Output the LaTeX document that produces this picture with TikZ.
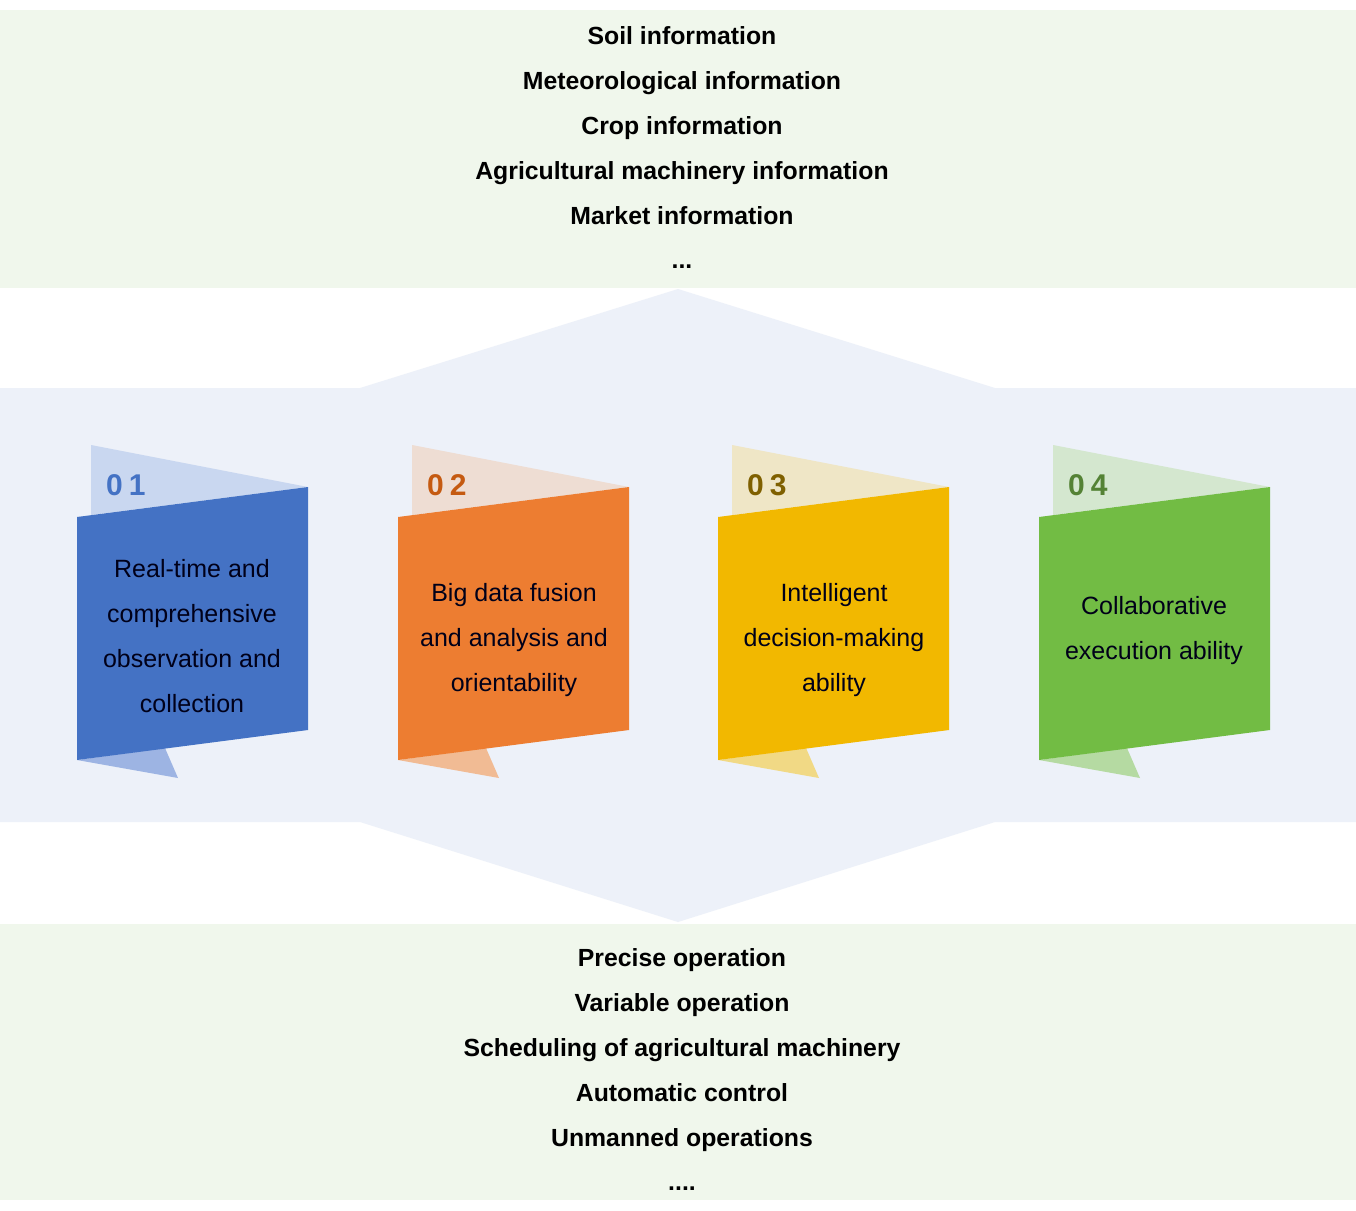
\documentclass[tikz,border=0pt]{standalone}
\usepackage{fontspec}
\setmainfont{Liberation Sans}
\definecolor{bandgreen}{HTML}{F0F7EC}
\definecolor{bandblue}{HTML}{EDF1F9}
\definecolor{c1main}{HTML}{4472C4}
\definecolor{c1up}{HTML}{C9D7F0}
\definecolor{c1low}{HTML}{9DB4E3}
\definecolor{c1num}{HTML}{4472C4}
\definecolor{c2main}{HTML}{ED7D31}
\definecolor{c2up}{HTML}{EEDDD3}
\definecolor{c2low}{HTML}{F1BB94}
\definecolor{c2num}{HTML}{C55A11}
\definecolor{c3main}{HTML}{F2B800}
\definecolor{c3up}{HTML}{EFE6C6}
\definecolor{c3low}{HTML}{F1D985}
\definecolor{c3num}{HTML}{7F6000}
\definecolor{c4main}{HTML}{72BC44}
\definecolor{c4up}{HTML}{D4E7CF}
\definecolor{c4low}{HTML}{B5DAA2}
\definecolor{c4num}{HTML}{548235}
\tikzset{
  listtext/.style={font=\fontsize{24.8}{28}\selectfont\bfseries, text=black, inner sep=0pt, anchor=base},
  cardtext/.style={font=\fontsize{25}{45}\selectfont, text=black!90!blue, align=center, inner sep=0pt},
  numtext/.style={font=\fontsize{30}{34}\selectfont\bfseries, anchor=west, inner sep=0pt},
}
\newcommand{\mycard}[6]{%
  \begin{scope}[xshift=#1]
    \fill[#3] (91,445) -- (308,487) -- (91,515) -- cycle;
    \fill[#4] (77,760) -- (178,778) -- (165,748) -- cycle;
    \fill[#2] (77,517) -- (308,487) -- (308,730) -- (77,760) -- cycle;
    \node[numtext, text=#5] (num#6) at (106,485) {0\hspace{6pt}#6};
  \end{scope}}
\begin{document}
\begin{tikzpicture}[x=1pt,y=-1pt]
\useasboundingbox (0,0) rectangle (1356,1210);
\fill[white] (0,0) rectangle (1356,1210);
\fill[bandgreen] (0,10) rectangle (1356,288);
\fill[bandgreen] (0,924) rectangle (1356,1200);
\fill[bandblue] (0,388) -- (360,388) -- (678,289) -- (995,388) -- (1356,388) -- (1356,822) -- (995,822) -- (678,922) -- (360,822) -- (0,822) -- cycle;
\mycard{0pt}{c1main}{c1up}{c1low}{c1num}{1}
\mycard{321pt}{c2main}{c2up}{c2low}{c2num}{2}
\mycard{641pt}{c3main}{c3up}{c3low}{c3num}{3}
\mycard{962pt}{c4main}{c4up}{c4low}{c4num}{4}
\node[cardtext] (t1) at (192,636) {Real-time and\\comprehensive\\observation and\\collection};
\node[cardtext] (t2) at (514,640) {Big data fusion\\and analysis and\\orientability};
\node[cardtext] (t3) at (834,640) {Intelligent\\decision-making\\ability};
\node[cardtext] (t4) at (1154,631) {Collaborative\\execution ability};
\node[listtext] (a1) at (682,44) {Soil information};
\node[listtext] (a2) at (682,89) {Meteorological information};
\node[listtext] (a3) at (682,134) {Crop information};
\node[listtext] (a4) at (682,179) {Agricultural machinery information};
\node[listtext] (a5) at (682,224) {Market information};
\node[listtext] (a6) at (682,268) {...};
\node[listtext] (b1) at (682,966) {Precise operation};
\node[listtext] (b2) at (682,1011) {Variable operation};
\node[listtext] (b3) at (682,1056) {Scheduling of agricultural machinery};
\node[listtext] (b4) at (682,1101) {Automatic control};
\node[listtext] (b5) at (682,1146) {Unmanned operations};
\node[listtext] (b6) at (682,1190) {....};
\end{tikzpicture}
\end{document}
